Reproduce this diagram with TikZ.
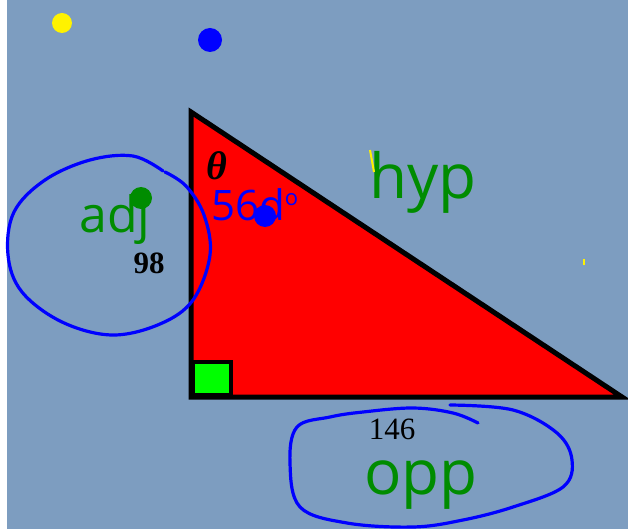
\documentclass[tikz,border=0pt]{standalone}
\usepackage{fontspec}
\setmainfont{Liberation Serif}
\newfontfamily\handfont{Open Sans}
\definecolor{bgblue}{RGB}{125,157,192}
\definecolor{penblue}{RGB}{0,0,255}
\definecolor{pengreen}{RGB}{0,140,0}
\definecolor{brightgreen}{RGB}{0,255,0}
\begin{document}
\begin{tikzpicture}[x=1pt,y=-1pt,
  hand/.style={inner sep=0pt},
  penline/.style={draw=penblue, line width=3.2pt, line cap=round, line join=round},
  numlabel/.style={inner sep=0pt, text=black}]
\useasboundingbox (0,0) rectangle (628,529);
\fill[white] (0,0) rectangle (7,529);
\fill[bgblue] (7,0) rectangle (628,529);
% dots
\fill[yellow] (62,23) circle (10);
\fill[penblue] (210,40) circle (12);
% triangle
\coordinate (A) at (191,112);
\coordinate (B) at (191,397);
\coordinate (C) at (622,397);
\filldraw[fill=red, draw=black, line width=5pt, line join=miter] (A) -- (B) -- (C) -- cycle;
% right angle box
\filldraw[fill=brightgreen, draw=black, line width=4pt] (193,395) rectangle (231,362);
% theta
\node[inner sep=0pt, font=\bfseries\itshape\fontsize{40}{40}\selectfont] (theta) at (217,166) {θ};
% left ellipse
\draw[penline] plot[smooth, tension=0.6] coordinates {(163,171) (133,156) (90,160) (45,180) (14,212) (8,255) (22,292) (62,322) (112,335) (160,324) (193,300) (210,255) (204,215) (186,186) (165,172)};
% bottom ellipse
\draw[penline] plot[smooth, tension=0.6] coordinates {(450,405) (513,410) (557,433) (572,460) (563,487) (513,507) (463,520) (413,527) (347,523) (300,507) (290,463) (297,427) (330,417) (363,412) (413,408) (453,413) (478,423)};
% handwritten labels
\node[hand, text=pengreen, font=\handfont\fontsize{50}{50}\selectfont] (adj) at (115,220) {adj};
\fill[pengreen] (141,198) circle (11);
\node[hand, text=penblue, font=\handfont\fontsize{42}{42}\selectfont, anchor=west] (ang) at (211,205) {56d\raisebox{0.7ex}{\fontsize{22}{22}\selectfont o}};
\fill[penblue] (265,216) circle (11);
\node[hand, text=pengreen, font=\handfont\fontsize{62}{62}\selectfont] (hyp) at (423,182) {hyp};
\draw[yellow, line width=2pt] (370,150) -- (374,172);
\draw[yellow, line width=2.5pt] (584,259) -- (584,265);
\node[hand, text=pengreen, font=\handfont\fontsize{62}{62}\selectfont] (opp) at (421,485) {opp};
% numbers
\node[numlabel, font=\bfseries\fontsize{31}{31}\selectfont] (n98) at (149,263) {98};
\node[numlabel, font=\fontsize{31}{31}\selectfont] (n146) at (392,429) {146};
\end{tikzpicture}
\end{document}
